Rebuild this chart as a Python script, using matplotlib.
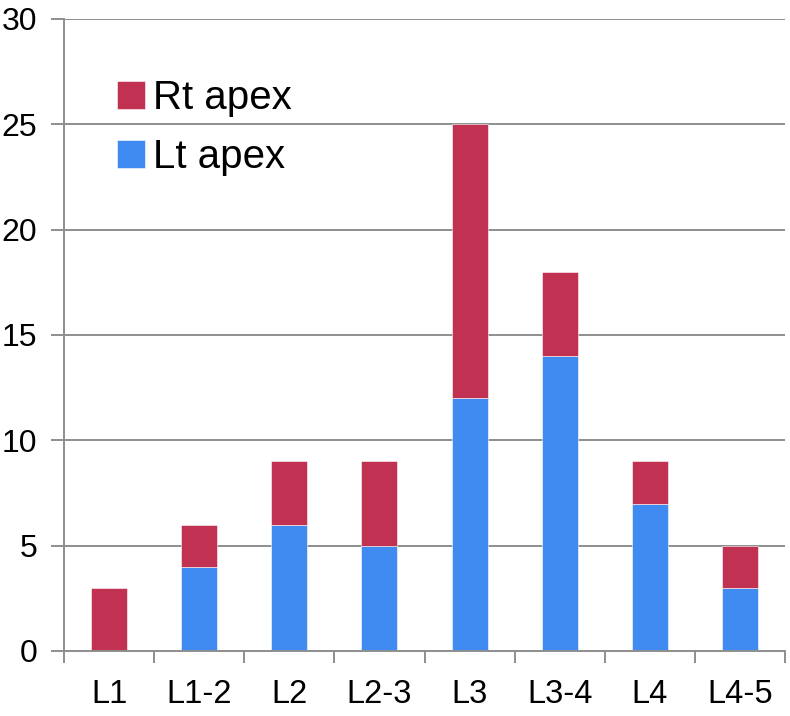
import matplotlib
matplotlib.use("Agg")
import matplotlib.pyplot as plt
import numpy as np

categories = ["L1", "L1-2", "L2", "L2-3", "L3", "L3-4", "L4", "L4-5"]
lt_apex = [0, 4, 6, 5, 12, 14, 7, 3]
rt_apex = [3, 2, 3, 4, 13, 4, 2, 2]
y_ticks = [0, 5, 10, 15, 20, 25, 30]

plt.rcParams['font.family'] = ['Liberation Sans', 'DejaVu Sans']

fig = plt.figure(figsize=(7.9, 7.16), dpi=100)
ax = fig.add_axes([64/790, 65/716, (785-64)/790, (651-19)/716])

x = np.arange(len(categories))
blue = "#3F8BF1"
red = "#C13152"
b1 = ax.bar(x, lt_apex, width=0.4, color=blue, edgecolor="white", linewidth=0.4, zorder=3, label="Lt apex")
b2 = ax.bar(x, rt_apex, width=0.4, bottom=lt_apex, color=red, edgecolor="white", linewidth=0.4, zorder=3, label="Rt apex")

ax.set_xlim(-0.5, len(categories) - 0.5)
ax.set_ylim(0, 30)
ax.set_yticks(y_ticks)
ax.set_yticklabels([str(v) for v in y_ticks], fontsize=23)
ax.set_xticks(x)
ax.set_xticklabels(categories, fontsize=23.5)
ax.set_xticks(np.arange(len(categories) + 1) - 0.5, minor=True)

gc = "#8E8E8E"
lw = 1.4
ax.yaxis.grid(True, color=gc, linewidth=lw, zorder=0)
ax.tick_params(axis='y', length=9.4, width=lw, color=gc, pad=10)
ax.tick_params(axis='x', which='major', length=0, pad=20)
ax.tick_params(axis='x', which='minor', length=8.6, width=lw, color=gc)
for s in ["top", "right"]:
    ax.spines[s].set_visible(False)
for s in ["left", "bottom"]:
    ax.spines[s].set_color(gc)
    ax.spines[s].set_linewidth(lw)
ax.spines["bottom"].set_zorder(4)

leg = ax.legend(handles=[b2, b1], labels=["Rt apex", "Lt apex"], loc="upper left",
                bbox_to_anchor=(0.023, 0.962), frameon=False, fontsize=29,
                handlelength=0.7, handleheight=0.7, handletextpad=0.2, labelspacing=0.52)

fig.savefig("out.png", dpi=100)
